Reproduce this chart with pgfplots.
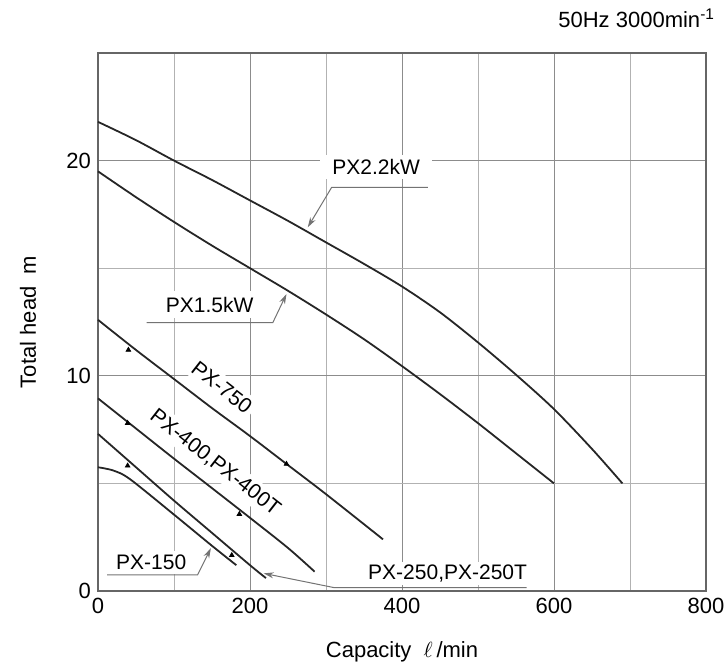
\documentclass[border=0pt]{standalone}
\usepackage{fontspec}
\setmainfont{Liberation Sans}
\usepackage{pgfplots}
\pgfplotsset{compat=1.18}
\usetikzlibrary{arrows.meta}

\begin{document}
\begin{tikzpicture}[font=\fontsize{11}{13}\selectfont]
\begin{axis}[
  scale only axis, width=304pt, height=269pt,
  xmin=0, xmax=800, ymin=0, ymax=25,
  xtick={0,200,400,600,800}, ytick={0,10,20},
  minor xtick={100,300,500,700}, minor ytick={5,15},
  grid=both,
  major grid style={black!45, line width=0.5pt},
  minor grid style={black!30, line width=0.5pt},
  major tick length=0pt, minor tick length=0pt,
  axis line style={black!60, line width=0.8pt},
  /pgf/number format/assume math mode=true,
  /pgf/number format/1000 sep={},
  tick label style={font=\fontsize{11}{13}\selectfont},
  xlabel={Capacity\ \ $\ell$\,/min},
  ylabel={Total head\ \ m},
  x label style={at={(axis description cs:0.5,-0.1134)}, anchor=center},
  y label style={at={(axis description cs:-0.1151,0.5)}, anchor=center},
  clip=false,
]
% curve labels
\node[fill=white, inner xsep=6pt, inner ysep=2pt, font=\fontsize{10.5}{12}\selectfont] at (axis cs:366,19.7) {PX2.2kW};
\node[fill=white, inner xsep=4pt, inner ysep=3pt, font=\fontsize{10.5}{12}\selectfont] at (axis cs:147,13.3) {PX1.5kW};
\node[fill=white, inner sep=2pt, rotate=-38, font=\fontsize{10.5}{12}\selectfont] at (axis cs:163,9.47) {PX-750};
\node[fill=white, inner sep=2pt, rotate=-38, font=\fontsize{10.5}{12}\selectfont] at (axis cs:154,5.97) {PX-400,PX-400T};
\node[fill=white, inner sep=2pt, font=\fontsize{10.5}{12}\selectfont] at (axis cs:70,1.32) {PX-150};
\node[fill=white, inner sep=1.5pt, font=\fontsize{10.5}{12}\selectfont] at (axis cs:460,0.8) {PX-250,PX-250T};
% leader lines
\draw[black!55, line width=0.5pt, -{Stealth[length=5pt,width=3pt]}] (axis cs:434,18.76) -- (axis cs:307.5,18.76) -- (axis cs:276,16.9);
\draw[black!55, line width=0.5pt, -{Stealth[length=5pt,width=3pt]}] (axis cs:64,12.47) -- (axis cs:230,12.47) -- (axis cs:248,13.8);
\draw[black!55, line width=0.5pt, -{Stealth[length=5pt,width=3pt]}] (axis cs:12,0.75) -- (axis cs:131,0.75) -- (axis cs:148.5,1.99);
\draw[black!55, line width=0.5pt, -{Stealth[length=5pt,width=3pt]}] (axis cs:564,0.155) -- (axis cs:311,0.155) -- (axis cs:218,0.82);
% curves
\addplot[black!85, line width=0.9pt, smooth] coordinates {(0,21.8)(50,20.95)(100,20.0)(150,19.1)(200,18.15)(250,17.2)(300,16.2)(350,15.2)(400,14.15)(450,12.95)(500,11.55)(550,10.05)(600,8.45)(650,6.6)(690,5.0)};
\addplot[black!85, line width=0.9pt, smooth] coordinates {(0,19.5)(50,18.3)(100,17.15)(150,16.05)(200,15.0)(250,13.95)(300,12.85)(350,11.7)(400,10.45)(450,9.15)(500,7.8)(550,6.4)(600,5.0)};
\addplot[black!85, line width=0.9pt, smooth] coordinates {(0,12.6)(50,11.2)(100,9.85)(150,8.5)(200,7.2)(250,5.85)(300,4.5)(375,2.4)};
\addplot[black!85, line width=0.9pt, smooth] coordinates {(0,8.95)(50,7.55)(100,6.15)(150,4.78)(200,3.4)(250,2.0)(285,0.9)};
\addplot[black!85, line width=0.9pt, smooth] coordinates {(0,7.3)(50,5.75)(100,4.2)(150,2.7)(200,1.2)(221,0.6)};
\addplot[black!85, line width=0.9pt, smooth] coordinates {(0,5.75)(20,5.6)(42,5.2)(100,3.55)(150,2.1)(182,1.2)};
% range marks
\addplot[only marks, mark=triangle*, mark size=1.3pt, black] coordinates {(40,11.2)(248,5.9)(39,7.8)(186,3.57)(39,5.82)(176,1.66)};
\end{axis}
\node[anchor=east] at ([shift={(8pt,17.5pt)}]current axis.north east) {50Hz 3000min\textsuperscript{-1}};
\pgfresetboundingbox
\path ([shift={(-49pt,-38pt)}]current axis.south west) rectangle ([shift={(11pt,26.5pt)}]current axis.north east);
\end{tikzpicture}
\end{document}
